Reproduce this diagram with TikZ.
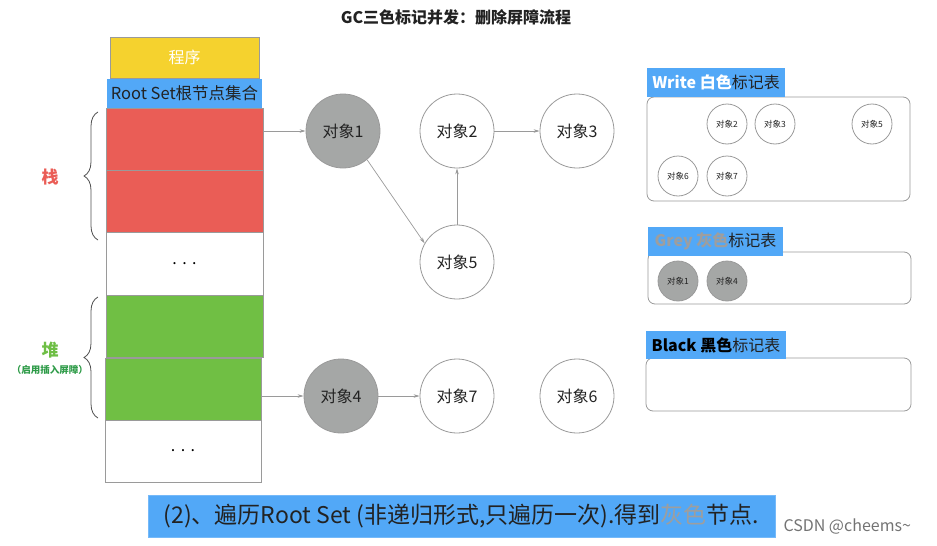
\documentclass[tikz,border=0pt]{standalone}
\usepackage{fontspec}
\setmainfont{Noto Sans CJK SC}
\usetikzlibrary{decorations.pathreplacing,arrows.meta}
\definecolor{progY}{HTML}{F5D22E}
\definecolor{setB}{HTML}{52A8F7}
\definecolor{stkR}{HTML}{EA5D56}
\definecolor{heapG}{HTML}{70BF44}
\definecolor{objG}{HTML}{A5A7A6}
\definecolor{lineG}{HTML}{9A9A9A}
\definecolor{txtD}{HTML}{222222}
\definecolor{heapTxt}{HTML}{6EBE45}
\definecolor{heapSub}{HTML}{2E9B48}
\definecolor{greyTxt}{HTML}{9E9E9E}
\tikzset{
  box/.style={draw=lineG, line width=0.8pt, inner sep=0pt, rectangle},
  obj/.style={circle, draw=lineG, line width=0.8pt, minimum size=74pt, inner sep=0pt, font=\fontsize{16}{18}\selectfont, text=txtD},
  sobj/.style={circle, draw=lineG, line width=0.8pt, minimum size=40pt, inner sep=0pt, font=\fontsize{8.5}{10}\selectfont, text=txtD},
  arr/.style={draw=lineG, line width=0.7pt, -{Stealth[length=6pt,width=3.5pt]}},
  tag/.style={fill=setB, inner sep=0pt, font=\fontsize{16}{18}\selectfont, text=txtD},
  panel/.style={draw=lineG, line width=0.8pt, rounded corners=7pt, inner sep=0pt},
  brc/.style={draw=txtD!80, line width=0.8pt, decorate, decoration={brace, amplitude=14pt}}
}
\begin{document}
\begin{tikzpicture}[x=1pt,y=-1pt]
\useasboundingbox (0,0) rectangle (937,546);
% title
\node[font=\fontsize{16}{18}\selectfont\bfseries, text=txtD] (title) at (456,17) {GC三色标记并发：删除屏障流程};
% left stack
\node[box, fill=progY, minimum width=149pt, minimum height=41pt, text=white, font=\fontsize{16}{18}\selectfont] (prog) at (184.5,57.5) {程序};
\node[box, draw=none, fill=setB, minimum width=155pt, minimum height=29pt, text=txtD, font=\fontsize{16.5}{18}\selectfont] (root) at (184.5,93.5) {Root Set根节点集合};
\node[box, fill=stkR, minimum width=157pt, minimum height=62pt] (r1) at (184.5,139) {};
\node[box, fill=stkR, minimum width=157pt, minimum height=62pt] (r2) at (184.5,201) {};
\node[box, fill=white, minimum width=157pt, minimum height=63pt, font=\fontsize{16}{18}\selectfont] (d1) at (184.5,263.5) {.\,\,.\,\,.};
\node[box, fill=heapG, minimum width=157pt, minimum height=62pt] (g1) at (184.5,326) {};
\node[box, fill=heapG, minimum width=156pt, minimum height=62pt] (g2) at (183,389) {};
\node[box, fill=white, minimum width=156pt, minimum height=62pt, font=\fontsize{16}{18}\selectfont] (d2) at (183,451) {.\,\,.\,\,.};
% braces
\coordinate (b1s) at (98,240);
\coordinate (b1e) at (98,112);
\draw[brc] (b1s) -- (b1e);
\coordinate (b2s) at (98,418);
\coordinate (b2e) at (98,297);
\draw[brc] (b2s) -- (b2e);
\node[text=stkR, font=\fontsize{17}{18}\selectfont\bfseries] (stk) at (50,177) {栈};
\node[text=heapTxt, font=\fontsize{17}{18}\selectfont\bfseries] (heap) at (50,350) {堆};
\node[text=heapSub, font=\fontsize{9.5}{11}\selectfont\bfseries] (heapsub) at (50,370) {（启用插入屏障）};
% objects
\node[obj, fill=objG] (c1) at (343,131) {对象1};
\node[obj] (c2) at (457,131) {对象2};
\node[obj] (c3) at (577,131) {对象3};
\node[obj] (c5) at (457,262) {对象5};
\node[obj, fill=objG] (c4) at (341,396) {对象4};
\node[obj] (c7) at (457,396) {对象7};
\node[obj] (c6) at (577,396) {对象6};
% connectors
\draw[arr] (r1.east |- c1.west) -- (c1.west);
\draw[arr] (g2.east |- c4.west) -- (c4.west);
\draw[arr] (c1.-50) -- (c5.150);
\draw[arr] (c5.north) -- (c2.south);
\draw[arr] (c2.east) -- (c3.west);
\draw[arr] (c4.east) -- (c7.west);
% right panels
\node[panel, minimum width=263pt, minimum height=104pt] (wp) at (778.5,149) {};
\node[tag, minimum width=138pt, minimum height=29pt] (wt) at (716,82.5) {\textcolor{white}{\bfseries Write 白色}标记表};
\node[sobj] (w2) at (727,124) {对象2};
\node[sobj] (w3) at (775,124) {对象3};
\node[sobj] (w5) at (872,124) {对象5};
\node[sobj] (w6) at (678,176) {对象6};
\node[sobj] (w7) at (727,176) {对象7};
\node[panel, minimum width=263pt, minimum height=52pt] (gp) at (779.5,278) {};
\node[tag, minimum width=135pt, minimum height=29pt] (gt) at (715.5,241.5) {\textcolor{greyTxt}{\bfseries Grey 灰色}标记表};
\node[sobj, fill=objG] (g1s) at (678,281) {对象1};
\node[sobj, fill=objG] (g4s) at (727,281) {对象4};
\node[panel, minimum width=265pt, minimum height=53pt] (bp) at (778.5,384.5) {};
\node[tag, minimum width=140pt, minimum height=28pt] (bt) at (716,345) {\textcolor{black}{\bfseries Black 黑色}标记表};
% caption
\node[fill=setB, draw=setB!80!white, minimum width=627pt, minimum height=42pt, inner sep=0pt, text=txtD, font=\fontsize{23}{25}\selectfont] (cap) at (461.5,516) {(2)、遍历Root Set (非递归形式,只遍历一次).得到\textcolor{greyTxt}{灰色}节点.};
\node[text=black!55, font=\fontsize{16}{18}\selectfont, anchor=west] (wm) at (780,527) {CSDN @cheems\textasciitilde};
\end{tikzpicture}
\end{document}
